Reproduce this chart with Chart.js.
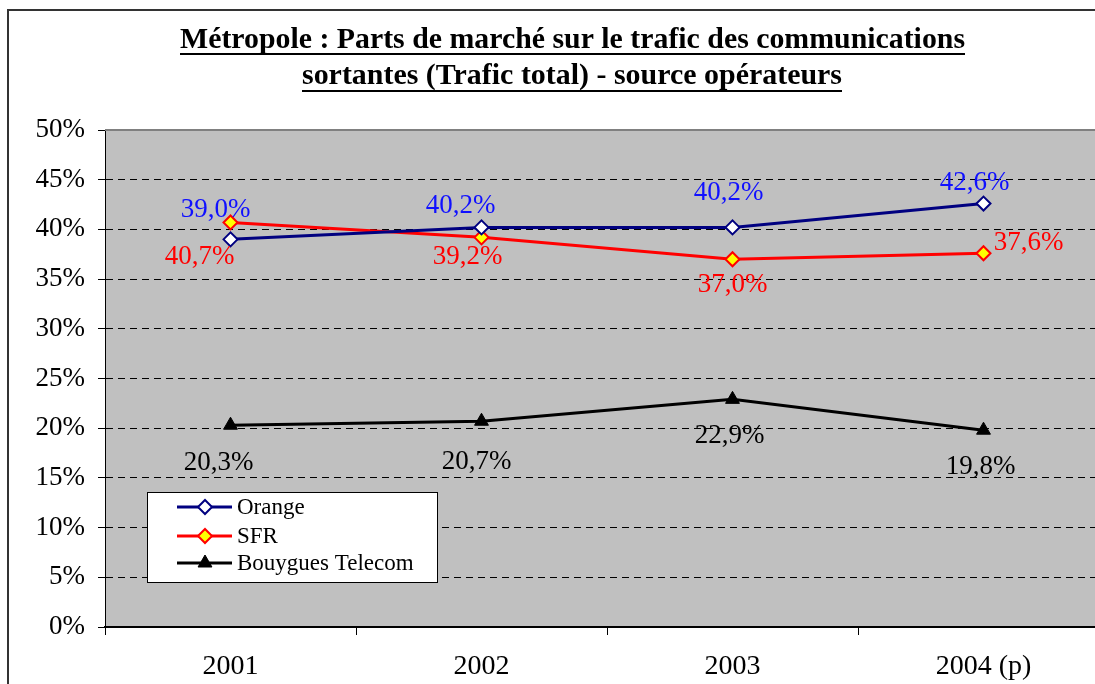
<!DOCTYPE html>
<html>
<head>
<meta charset="utf-8">
<script src="https://cdn.jsdelivr.net/npm/chart.js@4.4.1/dist/chart.umd.min.js"></script>
<style>
html,body{margin:0;padding:0;overflow:hidden;background:#fff;width:1095px;height:684px;}
canvas{position:absolute;left:0;top:0;}
</style>
</head>
<body>
<canvas id="c" width="1120" height="684"></canvas>
<script>
const categories = ['2001', '2002', '2003', '2004 (p)'];
const orange = [39.0, 40.2, 40.2, 42.6];
const sfr = [40.7, 39.2, 37.0, 37.6];
const bouygues = [20.3, 20.7, 22.9, 19.8];
const yTicks = [0, 5, 10, 15, 20, 25, 30, 35, 40, 45, 50];
const titleLines = ['Métropole : Parts de marché sur le trafic des communications', 'sortantes (Trafic total) - source opérateurs'];

const labelOffsets = [
  [[-15,-29],[-21,-22],[-4,-35],[-9,-21]],
  [[-31,34],[-14,20],[0,26],[45,-10]],
  [[-12,38],[-5,41],[-3,37],[-3,37]]
];
const labelColors = ['#1010FF', '#FF0000', '#000000'];
const FONT = '"Liberation Serif", "Times New Roman", serif';

const fmt = v => v.toFixed(1).replace('.', ',') + '%';

const decor = {
  id: 'decor',
  beforeDraw(chart) {
    const ctx = chart.ctx, a = chart.chartArea;
    ctx.save();
    ctx.fillStyle = '#fff';
    ctx.fillRect(0, 0, chart.width, chart.height);
    ctx.fillStyle = '#C0C0C0';
    ctx.fillRect(a.left, a.top, a.right - a.left, a.bottom - a.top);
    // outer border
    ctx.strokeStyle = '#333';
    ctx.lineWidth = 2;
    ctx.beginPath();
    ctx.moveTo(8, 684); ctx.lineTo(8, 10); ctx.lineTo(chart.width, 10);
    ctx.stroke();
    // title
    ctx.fillStyle = '#000';
    ctx.font = 'bold 27px ' + FONT;
    ctx.textBaseline = 'alphabetic';
    ctx.textAlign = 'left';
    const targets = [[180, 965, 48, 53], [302, 842, 84, 90]];
    titleLines.forEach((t, i) => {
      const [x0, x1, base, ul] = targets[i];
      const w = ctx.measureText(t).width;
      const s = (x1 - x0) / w;
      ctx.save();
      ctx.translate(x0, base);
      ctx.scale(s, 1.08);
      ctx.fillText(t, 0, 0);
      ctx.restore();
      ctx.fillRect(x0, ul, x1 - x0, 2);
    });
    ctx.restore();
  },
  afterDatasetsDraw(chart) {
    const ctx = chart.ctx, a = chart.chartArea;
    ctx.save();
    // top border of plot
    ctx.strokeStyle = '#808080';
    ctx.lineWidth = 2;
    ctx.beginPath();
    ctx.moveTo(a.left, a.top); ctx.lineTo(a.right, a.top);
    ctx.stroke();
    // data labels
    ctx.font = '27px ' + FONT;
    ctx.textAlign = 'center';
    ctx.textBaseline = 'middle';
    chart.data.datasets.forEach((ds, di) => {
      const meta = chart.getDatasetMeta(di);
      ctx.fillStyle = labelColors[di];
      meta.data.forEach((pt, i) => {
        const [dx, dy] = labelOffsets[di][i];
        ctx.fillText(fmt(ds.data[i]), pt.x + dx, pt.y + dy);
      });
    });
    // legend
    const lx = 147, ly = 492, lw = 290, lh = 90;
    ctx.fillStyle = '#fff';
    ctx.fillRect(lx, ly, lw, lh);
    ctx.strokeStyle = '#000';
    ctx.lineWidth = 1;
    ctx.strokeRect(lx + 0.5, ly + 0.5, lw, lh);
    const rows = [507, 536, 563];
    ctx.font = '23px ' + FONT;
    ctx.textAlign = 'left';
    chart.data.datasets.forEach((ds, di) => {
      const y = rows[di];
      ctx.strokeStyle = ds.borderColor;
      ctx.lineWidth = 3;
      ctx.beginPath();
      ctx.moveTo(177, y); ctx.lineTo(232, y);
      ctx.stroke();
      ctx.fillStyle = ds.pointBackgroundColor;
      ctx.strokeStyle = ds.pointBorderColor;
      ctx.lineWidth = ds.pointBorderWidth;
      Chart.helpers.drawPoint(ctx, {pointStyle: ds.pointStyle, radius: ds.pointRadius, borderWidth: ds.pointBorderWidth, rotation: 0}, 205, y);
      ctx.fillStyle = '#000';
      ctx.textBaseline = 'middle';
      ctx.fillText(ds.label, 237, y + 1);
    });
    ctx.restore();
  }
};

new Chart(document.getElementById('c'), {
  type: 'line',
  data: {
    labels: categories,
    datasets: [
      { label: 'Orange', data: orange, borderColor: '#000080', borderWidth: 3,
        pointStyle: 'rectRot', pointRadius: 7, pointBorderWidth: 2,
        pointBackgroundColor: '#FFFFFF', pointBorderColor: '#000080', tension: 0 },
      { label: 'SFR', data: sfr, borderColor: '#FF0000', borderWidth: 3,
        pointStyle: 'rectRot', pointRadius: 7, pointBorderWidth: 2,
        pointBackgroundColor: '#FFFF00', pointBorderColor: '#FF0000', tension: 0 },
      { label: 'Bouygues Telecom', data: bouygues, borderColor: '#000000', borderWidth: 3,
        pointStyle: 'triangle', pointRadius: 8, pointBorderWidth: 1,
        pointBackgroundColor: '#000000', pointBorderColor: '#000000', tension: 0 }
    ]
  },
  options: {
    responsive: false,
    animation: false,
    events: [],
    layout: { padding: { left: 0, top: 130, right: 11, bottom: 0 } },
    plugins: { legend: { display: false }, title: { display: false }, tooltip: { enabled: false } },
    scales: {
      x: {
        offset: true,
        grid: { offset: true, drawOnChartArea: false, tickLength: 8, tickColor: '#000', tickWidth: 1 },
        border: { color: '#000', width: 2 },
        ticks: { color: '#000', font: { family: FONT, size: 28 }, padding: 15, maxRotation: 0 },
        afterFit(s) { s.height = 57; }
      },
      y: {
        min: 0, max: 50,
        afterBuildTicks(s) { s.ticks = yTicks.map(v => ({ value: v })); },
        grid: { color: '#000', lineWidth: 1, tickLength: 7, tickColor: '#000', tickBorderDash: [] },
        border: { color: '#000', width: 1, dash: [7, 5] },
        ticks: { color: '#000', font: { family: FONT, size: 27 }, padding: 13, callback: v => v + '%' },
        afterFit(s) { s.width = 105; }
      }
    }
  },
  plugins: [decor]
});
</script>
</body>
</html>
